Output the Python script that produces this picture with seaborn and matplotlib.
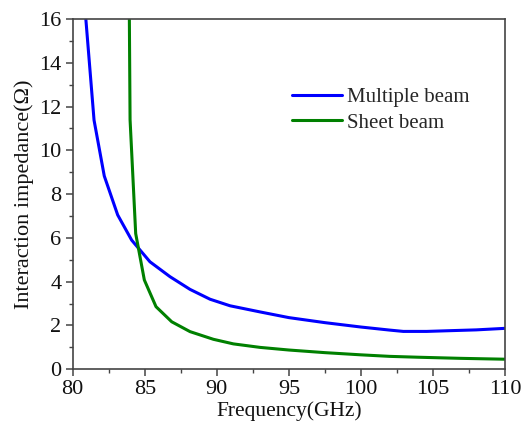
import numpy as np
import pandas as pd
import matplotlib
matplotlib.use("Agg")
import matplotlib.pyplot as plt
import seaborn as sns
from matplotlib.ticker import MultipleLocator

# Interaction impedance vs frequency for two beam configurations
multi_freq = [80.8, 81.48, 82.19, 83.12, 84.09, 85.36, 86.75, 88.14, 89.53, 90.92,
              93.0, 95.0, 97.5, 100.0, 102.0, 102.94, 104.56, 106.0, 108.0, 110.0]
multi_imp = [16.9, 11.38, 8.83, 7.05, 5.90, 4.91, 4.23, 3.65, 3.20, 2.90,
             2.62, 2.36, 2.13, 1.93, 1.79, 1.73, 1.73, 1.76, 1.80, 1.87]

sheet_freq = [83.92, 83.98, 84.37, 84.97, 85.78, 86.87, 88.14, 89.76, 91.15,
              93.0, 95.0, 97.5, 100.0, 102.0, 104.0, 106.9, 110.0]
sheet_imp = [17.0, 11.4, 6.2, 4.08, 2.86, 2.17, 1.72, 1.37, 1.16,
             1.00, 0.88, 0.76, 0.66, 0.59, 0.55, 0.50, 0.46]

series_names = ["Multiple beam", "Sheet beam"]
series_colors = ["#0000FF", "#008000"]

df = pd.concat([
    pd.DataFrame({"freq": multi_freq, "imp": multi_imp, "beam": series_names[0]}),
    pd.DataFrame({"freq": sheet_freq, "imp": sheet_imp, "beam": series_names[1]}),
], ignore_index=True)

sns.set_style("ticks")
plt.rcParams["font.family"] = ["Liberation Serif", "DejaVu Serif"]

fig = plt.figure(figsize=(5.25, 4.30), dpi=100)
ax = fig.add_axes([0.1385, 0.1412, 0.8235, 0.8146])

sns.lineplot(data=df, x="freq", y="imp", hue="beam", hue_order=series_names,
             palette=series_colors, sort=False, estimator=None, linewidth=2.2,
             ax=ax)

ax.set_xlim(80, 110)
ax.set_ylim(0, 16)
ax.xaxis.set_major_locator(MultipleLocator(5))
ax.xaxis.set_minor_locator(MultipleLocator(2.5))
ax.yaxis.set_major_locator(MultipleLocator(2))
ax.yaxis.set_minor_locator(MultipleLocator(1))

for side in ["left", "bottom", "top", "right"]:
    ax.spines[side].set_visible(True)
    ax.spines[side].set_color("#444444")
    ax.spines[side].set_linewidth(1.2)

ax.tick_params(axis="both", which="major", direction="out", length=5, width=1.1,
               colors="#444444", labelsize=16, labelcolor="#111111", pad=3)
ax.tick_params(axis="both", which="minor", direction="out", length=3, width=1.0,
               colors="#444444")
ax.tick_params(top=False, right=False, which="both")

ax.set_xlabel("Frequency(GHz)", fontsize=15.5, color="#111111", labelpad=1)
ax.set_ylabel("Interaction impedance(Ω)", fontsize=16, color="#111111", labelpad=4)

leg = ax.legend(loc="upper left", bbox_to_anchor=(0.487, 0.829), frameon=False,
                fontsize=15, handlelength=2.4, handletextpad=0.25,
                labelspacing=0.3, borderaxespad=0)
for line in leg.get_lines():
    line.set_linewidth(2.2)

fig.savefig("out.png", dpi=100)
